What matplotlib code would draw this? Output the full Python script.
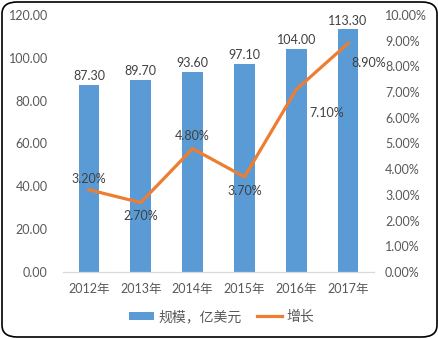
import matplotlib
matplotlib.use('Agg')
import matplotlib.pyplot as plt
from matplotlib.patches import FancyBboxPatch
from matplotlib.ticker import FormatStrFormatter, MultipleLocator

plt.rcParams['font.family'] = ['Lato', 'Noto Sans CJK SC', 'DejaVu Sans']

years = ['2012年', '2013年', '2014年', '2015年', '2016年', '2017年']
scale = [87.3, 89.7, 93.6, 97.1, 104.0, 113.3]
growth = [3.2, 2.7, 4.8, 3.7, 7.1, 8.9]

# label offsets for the growth line (pixels)
growth_offsets = [(0, 8), (0, -10), (0, 9), (0, -10), (22, -17), (15, -14)]

blue = '#5B9BD5'
orange = '#ED7D31'
tick_color = '#595959'
label_color = '#404040'

fig = plt.figure(figsize=(4.39, 3.39), dpi=100)
ax = fig.add_axes([63 / 439, 1 - 272 / 339, 311 / 439, 257 / 339])
ax2 = ax.twinx()

x = list(range(len(years)))
bars = ax.bar(x, scale, width=0.4, color=blue, label='规模，亿美元', zorder=2)
for xi, v in zip(x, scale):
    ax.annotate('%.2f' % v, (xi, v), xytext=(0, 2), textcoords='offset points',
                ha='center', va='bottom', fontsize=9, color=label_color)

ax.set_xlim(-0.5, len(years) - 0.5)
ax.set_ylim(0, 120)
ax.yaxis.set_major_locator(MultipleLocator(20))
ax.yaxis.set_major_formatter(FormatStrFormatter('%.2f'))
ax.set_xticks(x)
ax.set_xticklabels(years)

ax2.plot(x, [g / 100 for g in growth], color=orange, lw=2.3, label='增长', zorder=3)
for xi, g, off in zip(x, growth, growth_offsets):
    ax2.annotate('%.2f%%' % g, (xi, g / 100), xytext=off, textcoords='offset points',
                 ha='center', va='center', fontsize=9, color=label_color)
ax2.set_ylim(0, 0.10)
ax2.yaxis.set_major_locator(MultipleLocator(0.01))
ax2.yaxis.set_major_formatter(lambda v, p: '%.2f%%' % (v * 100))

for a in (ax, ax2):
    for s in ('top', 'left', 'right'):
        a.spines[s].set_visible(False)
    a.spines['bottom'].set_color('#D9D9D9')
    a.tick_params(length=0, colors=tick_color, labelsize=9)
ax.tick_params(axis='y', pad=11)
ax.tick_params(axis='x', pad=8)
ax2.tick_params(axis='y', pad=8)

h1, l1 = ax.get_legend_handles_labels()
h2, l2 = ax2.get_legend_handles_labels()
leg = fig.legend(h1 + h2, l1 + l2, loc='center', bbox_to_anchor=(0.505, 1 - 316 / 339),
                 ncol=2, frameon=False, fontsize=10, handlelength=1.8, handleheight=0.5,
                 columnspacing=1.1, handletextpad=0.3, labelcolor=tick_color)

border = FancyBboxPatch((2 / 439, 2 / 339), 435 / 439, 335 / 339,
                        boxstyle='round,pad=0,rounding_size=0.035',
                        transform=fig.transFigure, fill=False, edgecolor='black', lw=1.2)
fig.patches.append(border)

fig.savefig('out.png', dpi=100)
